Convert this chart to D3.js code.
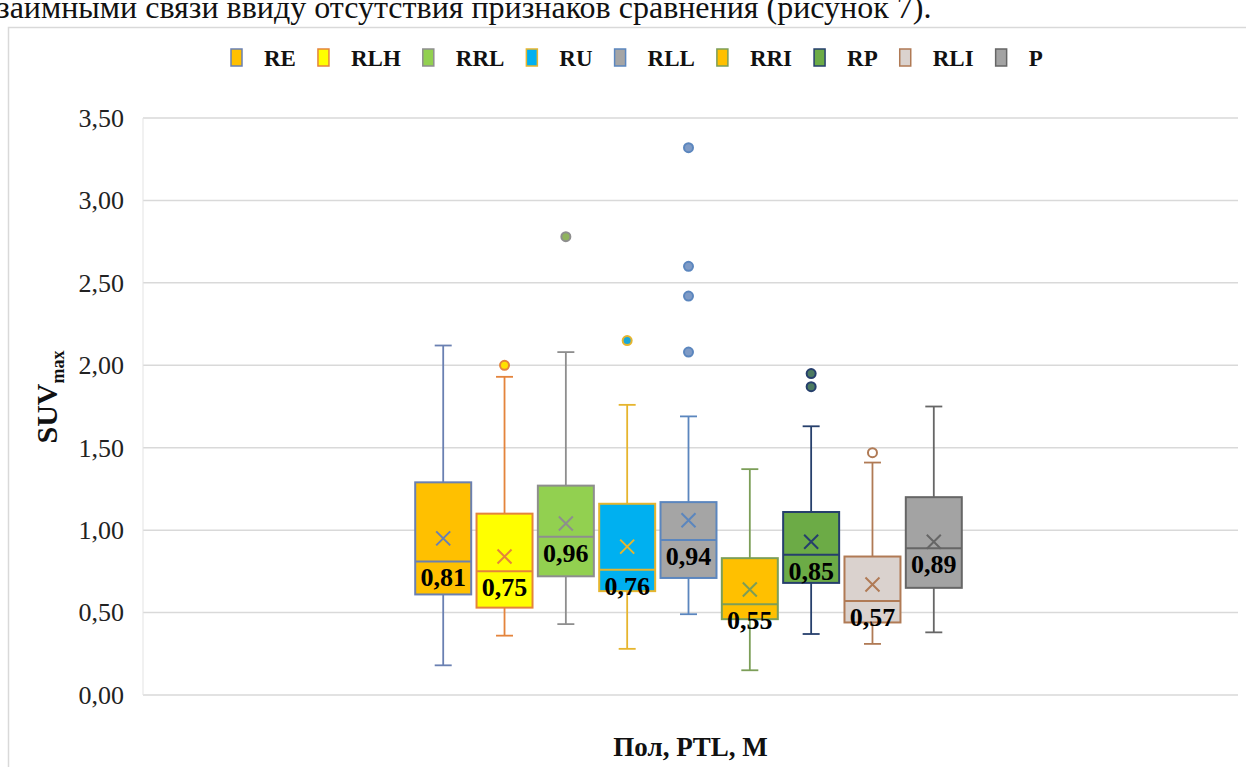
<!DOCTYPE html>
<html>
<head>
<meta charset="utf-8">
<script src="https://cdn.jsdelivr.net/npm/d3@7"></script>
<style>
  body { margin: 0; background: #fff; }
  svg { display: block; font-family: "Liberation Serif", "Times New Roman", serif; }
</style>
</head>
<body>
<svg id="chart"></svg>
<script>
const width = 1246, height = 767

const category = ["Пол, PTL, M"]
const seriesNames = ["RE", "RLH", "RRL", "RU", "RLL", "RRI", "RP", "RLI", "P"]
const whiskerLow = [0.18, 0.36, 0.43, 0.28, 0.49, 0.15, 0.37, 0.31, 0.38]
const q1 = [0.61, 0.53, 0.72, 0.63, 0.71, 0.46, 0.68, 0.44, 0.65]
const medians = [0.81, 0.75, 0.96, 0.76, 0.94, 0.55, 0.85, 0.57, 0.89]
const q3 = [1.29, 1.10, 1.27, 1.16, 1.17, 0.83, 1.11, 0.84, 1.20]
const whiskerHigh = [2.12, 1.93, 2.08, 1.76, 1.69, 1.37, 1.63, 1.41, 1.75]
const means = [0.95, 0.84, 1.04, 0.90, 1.06, 0.64, 0.93, 0.67, 0.93]
const outliers = [[], [2.00], [2.78], [2.15], [3.32, 2.60, 2.42, 2.08], [], [1.95, 1.87], [1.47], []]
const yTicks = [0, 0.5, 1, 1.5, 2, 2.5, 3, 3.5]

const fills = ["#FFC000", "#FFFF00", "#92D050", "#00B0F0", "#A5A5A5", "#FFC000", "#6CAB46", "#DAD2CE", "#A3A3A3"]
const strokes = ["#6A80B2", "#E4843C", "#8E8E8E", "#E6B52E", "#5B86BE", "#7C9E58", "#263F6C", "#B07A55", "#666666"]
const outlierFills = ["#FFC000", "#FFE100", "#8FB35E", "#1AA8D8", "#7F9BC6", "#FFC000", "#4C7A60", "#FFFFFF", "#A3A3A3"]

const plot = {left: 143, right: 1238, top: 118, bottom: 695}
const fmt = v => d3.format(".2f")(v).replace(".", ",")

const rows = seriesNames.map((name, i) => ({
    name, i,
    lo: whiskerLow[i], q1: q1[i], med: medians[i], q3: q3[i], hi: whiskerHigh[i],
    mean: means[i], out: outliers[i],
    fill: fills[i], stroke: strokes[i], outFill: outlierFills[i],
}))

const svg = d3.select("svg#chart")
    .attr("viewBox", [0, 0, width, height])
    .attr("width", width)
    .attr("height", height)

// last line of the page text above the figure, cut by the crop
svg.append("text")
    .attr("x", -3)
    .attr("y", 18)
    .attr("font-size", 32)
    .attr("fill", "#111")
    .text("заимными связи ввиду отсутствия признаков сравнения (рисунок 7).")

// chart frame
svg.append("rect")
    .attr("x", 8.5).attr("y", 27.5)
    .attr("width", 1400).attr("height", 900)
    .attr("fill", "#fff")
    .attr("stroke", "#d9d9d9")
    .attr("stroke-width", 1.5)

const yScale = d3.scaleLinear()
    .domain([0, 3.5])
    .range([plot.bottom, plot.top])

const x0 = d3.scaleBand()
    .domain(category)
    .range([plot.left, plot.right])
    .paddingOuter(0.492)

const x1 = d3.scaleBand()
    .domain(seriesNames)
    .range([0, x0.bandwidth()])
    .paddingInner(0.087)
    .paddingOuter(0.0435)

const cx = d => x0(category[0]) + x1(d.name) + x1.bandwidth() / 2 - 2

// grid
svg.append("g").classed("h-grid", true)
    .selectAll("line")
    .data(yTicks)
    .enter()
    .append("line")
    .attr("x1", plot.left)
    .attr("x2", plot.right)
    .attr("y1", d => yScale(d))
    .attr("y2", d => yScale(d))
    .attr("stroke", "#d9d9d9")
    .attr("stroke-width", 1.5)

svg.append("line")
    .attr("x1", plot.left).attr("x2", plot.left)
    .attr("y1", plot.top).attr("y2", plot.bottom)
    .attr("stroke", "#e3e3e3")
    .attr("stroke-width", 1)

// Y axis
const yAxis = svg.append("g").classed("y-axis", true)
    .attr("transform", `translate(${plot.left}, 0)`)
    .call(d3.axisLeft(yScale).tickValues(yTicks).tickFormat(fmt).tickSize(0).tickPadding(19))
yAxis.select(".domain").remove()
yAxis.attr("font-family", null).attr("font-size", null)
yAxis.selectAll("text")
    .attr("font-size", 26)
    .attr("fill", "#222")

// Y title
const yTitle = svg.append("text")
    .attr("transform", "translate(57, 397) rotate(-90)")
    .attr("text-anchor", "middle")
    .attr("font-weight", "bold")
    .attr("font-size", 30)
    .attr("fill", "#111")
yTitle.append("tspan").text("SUV")
yTitle.append("tspan").attr("font-size", 18).attr("dy", 7).text("max")

// X title
svg.append("text")
    .attr("x", (plot.left + plot.right) / 2)
    .attr("y", 756)
    .attr("text-anchor", "middle")
    .attr("font-weight", "bold")
    .attr("font-size", 27)
    .attr("fill", "#111")
    .text(category[0])

// boxes
const boxes = svg.append("g").classed("boxes", true)
    .selectAll("g")
    .data(rows)
    .enter()
    .append("g")

const capW = 8.5
boxes.append("line")
    .attr("x1", cx).attr("x2", cx)
    .attr("y1", d => yScale(d.hi)).attr("y2", d => yScale(d.lo))
    .attr("stroke", d => d.stroke).attr("stroke-width", 1.8)
boxes.append("line")
    .attr("x1", d => cx(d) - capW).attr("x2", d => cx(d) + capW)
    .attr("y1", d => yScale(d.hi)).attr("y2", d => yScale(d.hi))
    .attr("stroke", d => d.stroke).attr("stroke-width", 1.8)
boxes.append("line")
    .attr("x1", d => cx(d) - capW).attr("x2", d => cx(d) + capW)
    .attr("y1", d => yScale(d.lo)).attr("y2", d => yScale(d.lo))
    .attr("stroke", d => d.stroke).attr("stroke-width", 1.8)

boxes.append("rect")
    .attr("x", d => cx(d) - x1.bandwidth() / 2)
    .attr("width", x1.bandwidth())
    .attr("y", d => yScale(d.q3))
    .attr("height", d => yScale(d.q1) - yScale(d.q3))
    .attr("fill", d => d.fill)
    .attr("stroke", d => d.stroke)
    .attr("stroke-width", 2)

boxes.append("line")
    .attr("x1", d => cx(d) - x1.bandwidth() / 2).attr("x2", d => cx(d) + x1.bandwidth() / 2)
    .attr("y1", d => yScale(d.med)).attr("y2", d => yScale(d.med))
    .attr("stroke", d => d.stroke).attr("stroke-width", 2)

// mean markers
const mk = 7
boxes.append("path")
    .attr("d", d => {
        const x = cx(d), y = yScale(d.mean)
        return `M${x - mk},${y - mk}L${x + mk},${y + mk}M${x - mk},${y + mk}L${x + mk},${y - mk}`
    })
    .attr("stroke", d => d.stroke)
    .attr("stroke-width", 2)
    .attr("fill", "none")

// outliers
boxes.selectAll("circle")
    .data(d => d.out.map(v => ({v, d})))
    .enter()
    .append("circle")
    .attr("cx", o => cx(o.d))
    .attr("cy", o => yScale(o.v))
    .attr("r", 4.5)
    .attr("fill", o => o.d.outFill)
    .attr("stroke", o => o.d.stroke)
    .attr("stroke-width", 2)

// median labels
boxes.append("text")
    .attr("x", cx)
    .attr("y", d => yScale(d.med) + 25)
    .attr("text-anchor", "middle")
    .attr("font-weight", "bold")
    .attr("font-size", 26)
    .attr("fill", "#000")
    .text(d => fmt(d.med))

// legend
const legend = svg.append("g").classed("legend", true)
let lx = 231
rows.forEach(d => {
    const g = legend.append("g")
    g.append("rect")
        .attr("x", lx).attr("y", 49)
        .attr("width", 11).attr("height", 17)
        .attr("fill", d.fill)
        .attr("stroke", d.stroke)
        .attr("stroke-width", 1.5)
    const t = g.append("text")
        .attr("x", lx + 33).attr("y", 66)
        .attr("font-weight", "bold")
        .attr("font-size", 23)
        .attr("fill", "#111")
        .text(d.name)
    lx += 11 + 22 + t.node().getComputedTextLength() + 22
})
</script>
</body>
</html>
